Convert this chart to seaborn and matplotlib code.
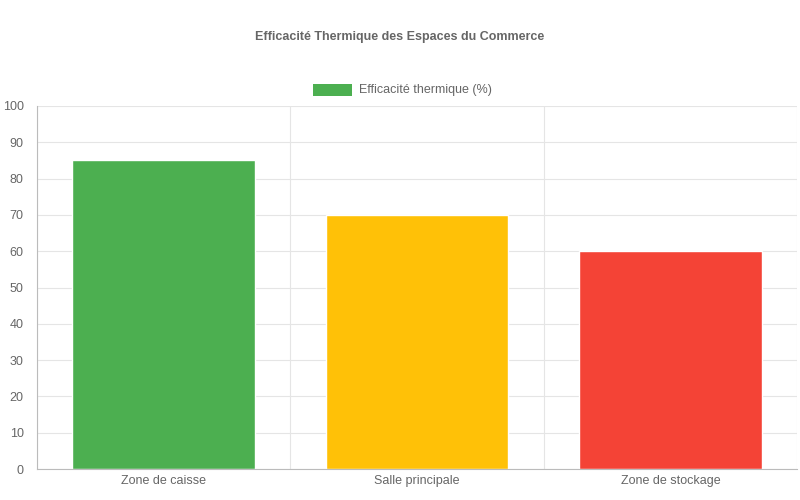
import matplotlib
matplotlib.use("Agg")
import matplotlib.pyplot as plt
import seaborn as sns
import pandas as pd

categories = ["Zone de caisse", "Salle principale", "Zone de stockage"]
values = [85, 70, 60]
colors = ["#4CAF50", "#FFC107", "#F44336"]
series_label = "Efficacité thermique (%)"
title = "Efficacité Thermique des Espaces du Commerce"

sns.set_theme(style="white")
plt.rcParams['font.family'] = ['Liberation Sans', 'DejaVu Sans']

fig = plt.figure(figsize=(8, 5), dpi=100)
ax = fig.add_axes([37/800, 1-469/500, 760/800, 363/500])
df = pd.DataFrame({"cat": categories, "val": values})
sns.barplot(data=df, x="cat", y="val", hue="cat", palette=colors, width=0.72,
            ax=ax, legend=False, saturation=1)
ax.set_xlim(-0.5, 2.5)
ax.set_ylim(0, 100)
ax.set_yticks(range(0, 101, 10))
ax.set_xticks([-0.5, 0.5, 1.5, 2.5], minor=False)
ax.set_xticklabels([])
ax.set_xticks([0, 1, 2], minor=True)
ax.set_xticklabels(categories, minor=True)
ax.tick_params(axis='x', which='major', length=9, color="#dddddd", width=0.8)
ax.tick_params(axis='x', which='minor', length=0, labelsize=9, labelcolor="#666666", pad=4)
ax.tick_params(axis='y', length=6, color="#dddddd", labelsize=9, labelcolor="#666666", width=0.8)
ax.grid(True, which='major', color="#e5e5e5", linewidth=0.8)
ax.set_axisbelow(True)
for s in ["top", "right"]:
    ax.spines[s].set_visible(False)
for s in ["left", "bottom"]:
    ax.spines[s].set_color("#bbbbbb")
    ax.spines[s].set_linewidth(0.8)
ax.set_xlabel("")
ax.set_ylabel("")

fig.text(0.5, 1-37/500, title, ha="center", va="center", fontsize=9,
         fontweight="bold", color="#666666")
fig.patches.append(plt.Rectangle((313/800, 1-96/500), 39/800, 12/500,
                                 transform=fig.transFigure, facecolor=colors[0],
                                 edgecolor="none"))
fig.text(359/800, 1-90/500, series_label, ha="left", va="center", fontsize=9,
         color="#666666")

fig.savefig("out.png", dpi=100)
